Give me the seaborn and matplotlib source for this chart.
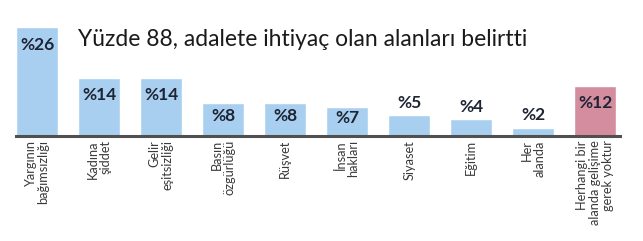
import matplotlib
matplotlib.use("Agg")
import matplotlib.pyplot as plt
import seaborn as sns
import pandas as pd

categories = [
    "Yargının\nbağımsızlığı",
    "Kadına\nşiddet",
    "Gelir\neşitsizliği",
    "Basın\nözgürlüğü",
    "Rüşvet",
    "İnsan\nhakları",
    "Siyaset",
    "Eğitim",
    "Her\nalanda",
    "Herhangi bir\nalanda gelişime\ngerek yoktur",
]
values = [26, 14, 14, 8, 8, 7, 5, 4, 2, 12]
groups = ["need"] * 9 + ["none"]
title = "Yüzde 88, adalete ihtiyaç olan alanları belirtti"

palette = {"need": "#a8cff0", "none": "#d48c9f"}

sns.set_theme(style="white")
plt.rcParams["font.family"] = ["Lato", "DejaVu Sans"]

df = pd.DataFrame({"cat": categories, "val": values, "grp": groups})

fig = plt.figure(figsize=(6.43, 2.41), dpi=100)
ax = fig.add_axes([16 / 643, 105 / 241, 604 / 643, 117 / 241])
sns.barplot(data=df, x="cat", y="val", hue="grp", palette=palette,
            dodge=False, width=0.68, legend=False, ax=ax, saturation=1)

ax.set_xlim(-0.34, 9.4)
ax.set_ylim(0, 28)
ax.set_xlabel("")
ax.set_ylabel("")
ax.set_yticks([])
for s in ["top", "right", "left"]:
    ax.spines[s].set_visible(False)
ax.spines["bottom"].set_color("#505050")
ax.spines["bottom"].set_linewidth(2.2)
ax.tick_params(axis="x", length=0, pad=3)
ax.set_xticks(range(len(categories)))
ax.set_xticklabels(categories, rotation=90, fontsize=9.2, color="#3a3a3a",
                   ha="center", va="top", multialignment="right",
                   linespacing=1.08)

px_per_unit = 117 / 28
for i, v in enumerate(values):
    h = v * px_per_unit
    if h > 25:
        off = -min(17.5, h / 2 - 3)
    else:
        off = 12.5
    ax.annotate(f"%{v}", (i, v), xytext=(0, off * 0.72), textcoords="offset points",
                ha="center", va="center", fontsize=12.5, fontweight="bold",
                color="#1e2433")

fig.text(78 / 643, 1 - 39 / 241, title, fontsize=16.5, color="#1a1a1a",
         ha="left", va="center")

fig.savefig("out.png", dpi=100, facecolor="white")
